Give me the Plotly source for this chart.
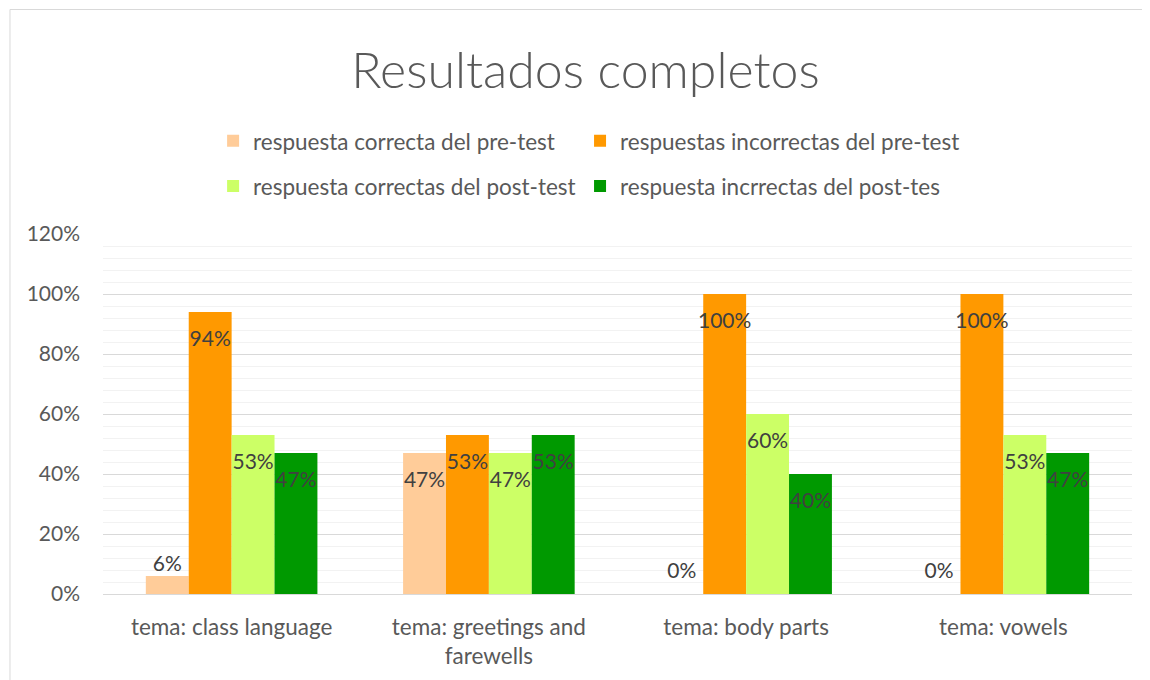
import plotly.graph_objects as go

categories = ["tema: class language", "tema: greetings and<br>farewells", "tema: body parts", "tema: vowels"]
series_names = [
    "respuesta correcta del pre-test",
    "respuestas incorrectas del pre-test",
    "respuesta correctas del post-test",
    "respuesta incrrectas del post-tes",
]
pre_correct = [0.06, 0.47, 0.0, 0.0]
pre_incorrect = [0.94, 0.53, 1.0, 1.0]
post_correct = [0.53, 0.47, 0.60, 0.53]
post_incorrect = [0.47, 0.53, 0.40, 0.47]
y_tickvals = [0, 0.2, 0.4, 0.6, 0.8, 1.0, 1.2]

series_values = [pre_correct, pre_incorrect, post_correct, post_incorrect]
colors = ["#FFCC99", "#FF9900", "#CCFF66", "#009900"]
legend_ids = ["legend", "legend2", "legend3", "legend4"]

FONT = "Lato"
GAP = 0.333
TXT = 22.5

fig = go.Figure()
for name, vals, col, lg in zip(series_names, series_values, colors, legend_ids):
    fig.add_trace(go.Bar(
        x=categories, y=vals, name=name, marker=dict(color=col, line=dict(width=0)),
        legend=lg, hoverinfo="skip",
    ))

# data labels, grouped to align with the bars
def label_marker_size(v):
    if v >= 0.2:
        return 28
    if v == 0:
        return 16
    return 0

for vals in series_values:
    fig.add_trace(go.Scatter(
        x=categories, y=vals, mode="markers+text", orientation="v",
        texttemplate="%{y:.0%}",
        textposition=["bottom center" if v >= 0.2 else "top center" for v in vals],
        marker=dict(size=[label_marker_size(v) for v in vals], opacity=0),
        textfont=dict(family=FONT, size=21, color="#404040"),
        showlegend=False, hoverinfo="skip", cliponaxis=False,
    ))

col_x = [0.107, 0.4636]
row_y = [1.2577, 1.1325]
legend_pos = {
    "legend": (col_x[0], row_y[0]),
    "legend2": (col_x[1], row_y[0]),
    "legend3": (col_x[0], row_y[1]),
    "legend4": (col_x[1], row_y[1]),
}
legend_layout = {
    k: dict(orientation="h", x=x, xanchor="left", y=y, yanchor="middle",
            font=dict(size=TXT, color="#595959"), bgcolor="rgba(0,0,0,0)")
    for k, (x, y) in legend_pos.items()
}

fig.update_layout(
    width=1142, height=672,
    margin=dict(l=95, r=18, t=226, b=86),
    paper_bgcolor="white", plot_bgcolor="white",
    barmode="group", bargap=GAP, bargroupgap=0,
    scattermode="group", scattergap=GAP,
    font=dict(family=FONT, color="#595959", size=TXT),
    title=dict(text="Resultados completos", x=0.5057, xanchor="center", xref="container",
               y=0.9077, yanchor="middle", yref="container",
               font=dict(family=FONT, size=50, color="#595959", weight=300)),
    showlegend=True,
    **legend_layout,
)
fig.update_yaxes(
    range=[0, 1.2], tickvals=y_tickvals, tickformat=".0%",
    showgrid=True, gridcolor="#D9D9D9", gridwidth=1,
    minor=dict(dtick=0.04, showgrid=True, gridcolor="#F2F2F2", gridwidth=1, tick0=0),
    zeroline=False, showline=False, ticks="", ticklabelstandoff=22,
    tickfont=dict(size=21, color="#595959"),
)
fig.update_xaxes(
    showline=True, linecolor="#D9D9D9", linewidth=1, ticks="", showgrid=False,
    tickfont=dict(size=TXT, color="#595959"), ticklabelstandoff=13,
)
# chart area border
fig.add_shape(type="rect", xref="paper", yref="paper",
              x0=-0.0904, x1=1.2, y0=-0.5, y1=1.6236,
              line=dict(color="#D9D9D9", width=1), fillcolor="rgba(0,0,0,0)", layer="below")

fig.write_html("out.html")
